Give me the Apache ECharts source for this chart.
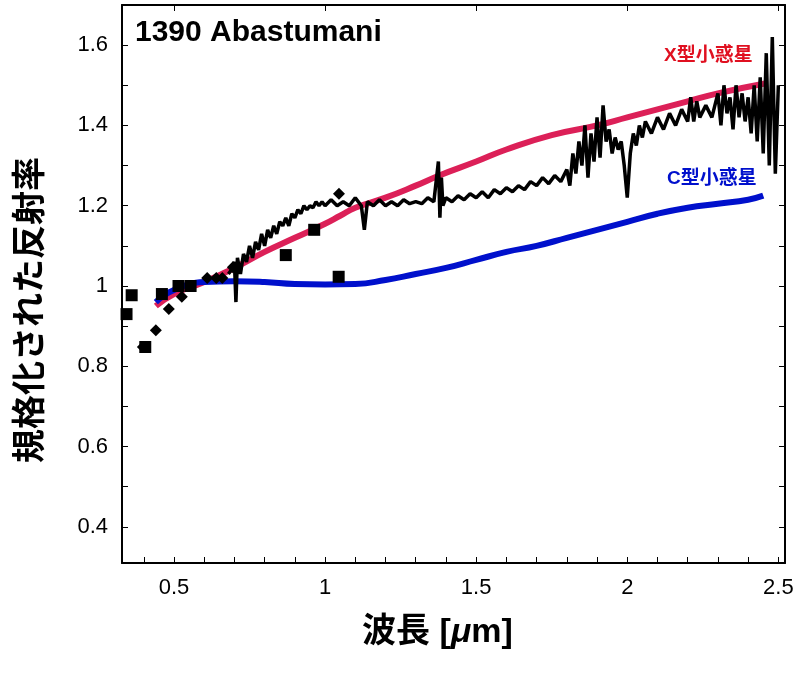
<!DOCTYPE html>
<html><head><meta charset="utf-8">
<script src="https://cdn.jsdelivr.net/npm/echarts@6/dist/echarts.min.js"></script>
<style>html,body{margin:0;padding:0;background:#fff}#c{width:800px;height:673px}</style>
</head><body><div id="c"></div>
<script>
const xTicks = [0.5, 1, 1.5, 2, 2.5];
const yTicks = [0.4, 0.6, 0.8, 1, 1.2, 1.4, 1.6];
const xType = [[0.44,0.95],[0.5,0.98],[0.6,1.01],[0.7,1.045],[0.8,1.085],[0.9,1.12],[1.0,1.155],[1.05,1.175],[1.1,1.195],[1.2,1.22],[1.3,1.25],[1.38,1.276],[1.5,1.31],[1.6,1.34],[1.75,1.376],[1.9,1.4],[2.0,1.42],[2.1,1.44],[2.2,1.46],[2.3,1.48],[2.46,1.505]];
const cType = [[0.44,0.96],[0.5,0.99],[0.6,1.01],[0.7,1.012],[0.8,1.01],[0.9,1.005],[1.0,1.004],[1.1,1.005],[1.2,1.015],[1.3,1.03],[1.4,1.045],[1.5,1.065],[1.6,1.085],[1.7,1.1],[1.8,1.12],[1.9,1.14],[2.0,1.16],[2.1,1.18],[2.2,1.195],[2.3,1.205],[2.4,1.215],[2.45,1.225]];
const squares = [[0.343,0.93],[0.36,0.977],[0.405,0.848],[0.46,0.98],[0.515,1.0],[0.555,1.0],[0.87,1.077],[0.964,1.14],[1.045,1.023]];
const diamonds = [[0.397,0.848],[0.44,0.89],[0.483,0.943],[0.526,0.973],[0.61,1.02],[0.64,1.02],[0.66,1.02],[0.695,1.047],[1.046,1.23]];
const spectrum = [[0.68,1.03],[0.69,1.04],[0.70,1.06],[0.705,0.96],[0.71,1.07],[0.72,1.03],[0.73,1.08],[0.74,1.06],[0.75,1.1],[0.76,1.07],[0.77,1.11],[0.78,1.09],[0.79,1.13],[0.80,1.1],[0.81,1.14],[0.82,1.12],[0.83,1.15],[0.84,1.13],[0.85,1.16],[0.86,1.15],[0.87,1.17],[0.88,1.15],[0.89,1.18],[0.90,1.17],[0.91,1.19],[0.92,1.18],[0.93,1.2],[0.94,1.19],[0.95,1.2],[0.96,1.195],[0.97,1.21],[0.98,1.2],[0.99,1.21],[1.0,1.2],[1.02,1.215],[1.04,1.2],[1.06,1.21],[1.08,1.2],[1.10,1.22],[1.12,1.2],[1.13,1.14],[1.14,1.21],[1.16,1.2],[1.18,1.215],[1.20,1.2],[1.22,1.21],[1.24,1.2],[1.26,1.215],[1.28,1.205],[1.30,1.21],[1.32,1.205],[1.34,1.22],[1.36,1.21],[1.375,1.31],[1.38,1.17],[1.385,1.27],[1.39,1.2],[1.40,1.22],[1.42,1.21],[1.44,1.225],[1.46,1.215],[1.48,1.23],[1.50,1.22],[1.52,1.235],[1.54,1.22],[1.56,1.24],[1.58,1.23],[1.60,1.245],[1.62,1.235],[1.64,1.25],[1.66,1.24],[1.68,1.26],[1.70,1.25],[1.72,1.27],[1.74,1.255],[1.76,1.275],[1.78,1.26],[1.80,1.29],[1.81,1.25],[1.82,1.33],[1.83,1.28],[1.84,1.36],[1.85,1.3],[1.86,1.4],[1.87,1.27],[1.88,1.38],[1.89,1.31],[1.90,1.42],[1.91,1.32],[1.92,1.45],[1.93,1.36],[1.94,1.39],[1.95,1.33],[1.96,1.37],[1.97,1.34],[1.98,1.36],[1.99,1.3],[2.00,1.22],[2.01,1.33],[2.02,1.38],[2.03,1.35],[2.04,1.4],[2.05,1.37],[2.06,1.41],[2.08,1.38],[2.10,1.42],[2.12,1.39],[2.14,1.43],[2.16,1.4],[2.18,1.44],[2.20,1.41],[2.21,1.47],[2.22,1.41],[2.23,1.46],[2.24,1.42],[2.26,1.45],[2.28,1.42],[2.30,1.48],[2.31,1.4],[2.32,1.5],[2.33,1.43],[2.34,1.47],[2.35,1.39],[2.36,1.5],[2.37,1.42],[2.38,1.48],[2.39,1.41],[2.40,1.47],[2.41,1.38],[2.42,1.5],[2.43,1.36],[2.44,1.52],[2.45,1.33],[2.46,1.58],[2.47,1.3],[2.48,1.62],[2.49,1.28],[2.50,1.5]];

const ch = echarts.init(document.getElementById('c'));
const ff = 'Liberation Sans, Noto Sans CJK JP, sans-serif';
const minor = [0.4,0.5,0.6,0.7,0.8,0.9,1,1.1,1.2,1.3,1.4,1.5,1.6];
const axisCommon = {axisLine:{show:true,onZero:false,lineStyle:{color:'#000',width:2}},splitLine:{show:false}};
ch.setOption({
  animation:false,
  grid:{left:122,right:15,top:5,bottom:110},
  xAxis:[{type:'value',min:0.328,max:2.522,...axisCommon,
    axisLabel:{fontSize:22,color:'#000',fontFamily:ff,margin:14,customValues:xTicks},
    axisTick:{inside:true,length:6,lineStyle:{color:'#000'},customValues:[0.4,0.5,0.6,0.7,0.8,0.9,1,1.1,1.2,1.3,1.4,1.5,1.6,1.7,1.8,1.9,2,2.1,2.2,2.3,2.4,2.5]}},
    {type:'value',position:'top',min:0.328,max:2.522,...axisCommon,axisLabel:{show:false},axisTick:{inside:true,length:6,lineStyle:{color:'#000'},customValues:xTicks}}],
  yAxis:[{type:'value',min:0.31,max:1.70,...axisCommon,
    axisLabel:{fontSize:22,color:'#000',fontFamily:ff,margin:14,customValues:yTicks},
    axisTick:{inside:true,length:6,lineStyle:{color:'#000'},customValues:minor}},
    {type:'value',position:'right',min:0.31,max:1.70,...axisCommon,axisLabel:{show:false},axisTick:{inside:true,length:6,lineStyle:{color:'#000'},customValues:minor}}],
  series:[
    {type:'line',data:xType,showSymbol:false,smooth:true,lineStyle:{color:'#dc2058',width:6},z:2},
    {type:'line',data:cType,showSymbol:false,smooth:true,lineStyle:{color:'#0010cc',width:6},z:2},
    {type:'line',data:spectrum,showSymbol:false,lineStyle:{color:'#000',width:3.5},z:3},
    {type:'scatter',data:squares,symbol:'rect',symbolSize:12,itemStyle:{color:'#000',opacity:1},z:4},
    {type:'scatter',data:diamonds,symbol:'diamond',symbolSize:12,itemStyle:{color:'#000',opacity:1},z:4}
  ],
  graphic:[
    {type:'text',left:135,top:18,style:{text:'1390 Abastumani',font:'bold 30px '+ff,fill:'#000'}},
    {type:'text',left:664,top:46,style:{text:'X型小惑星',font:'bold 19px '+ff,fill:'#e01020'}},
    {type:'text',left:667,top:169,style:{text:'C型小惑星',font:'bold 19px '+ff,fill:'#0010cc'}},
    {type:'text',left:362,top:616,style:{rich:{a:{font:'bold 34px '+ff,fill:'#000'},b:{font:'italic bold 34px '+ff,fill:'#000'}},text:'{a|波長 [}{b|μ}{a|m]}'}},
    {type:'text',x:15,y:463,rotation:Math.PI/2,style:{text:'規格化された反射率',font:'bold 34px '+ff,fill:'#000'},originX:0,originY:0}
  ]
});
</script></body></html>
